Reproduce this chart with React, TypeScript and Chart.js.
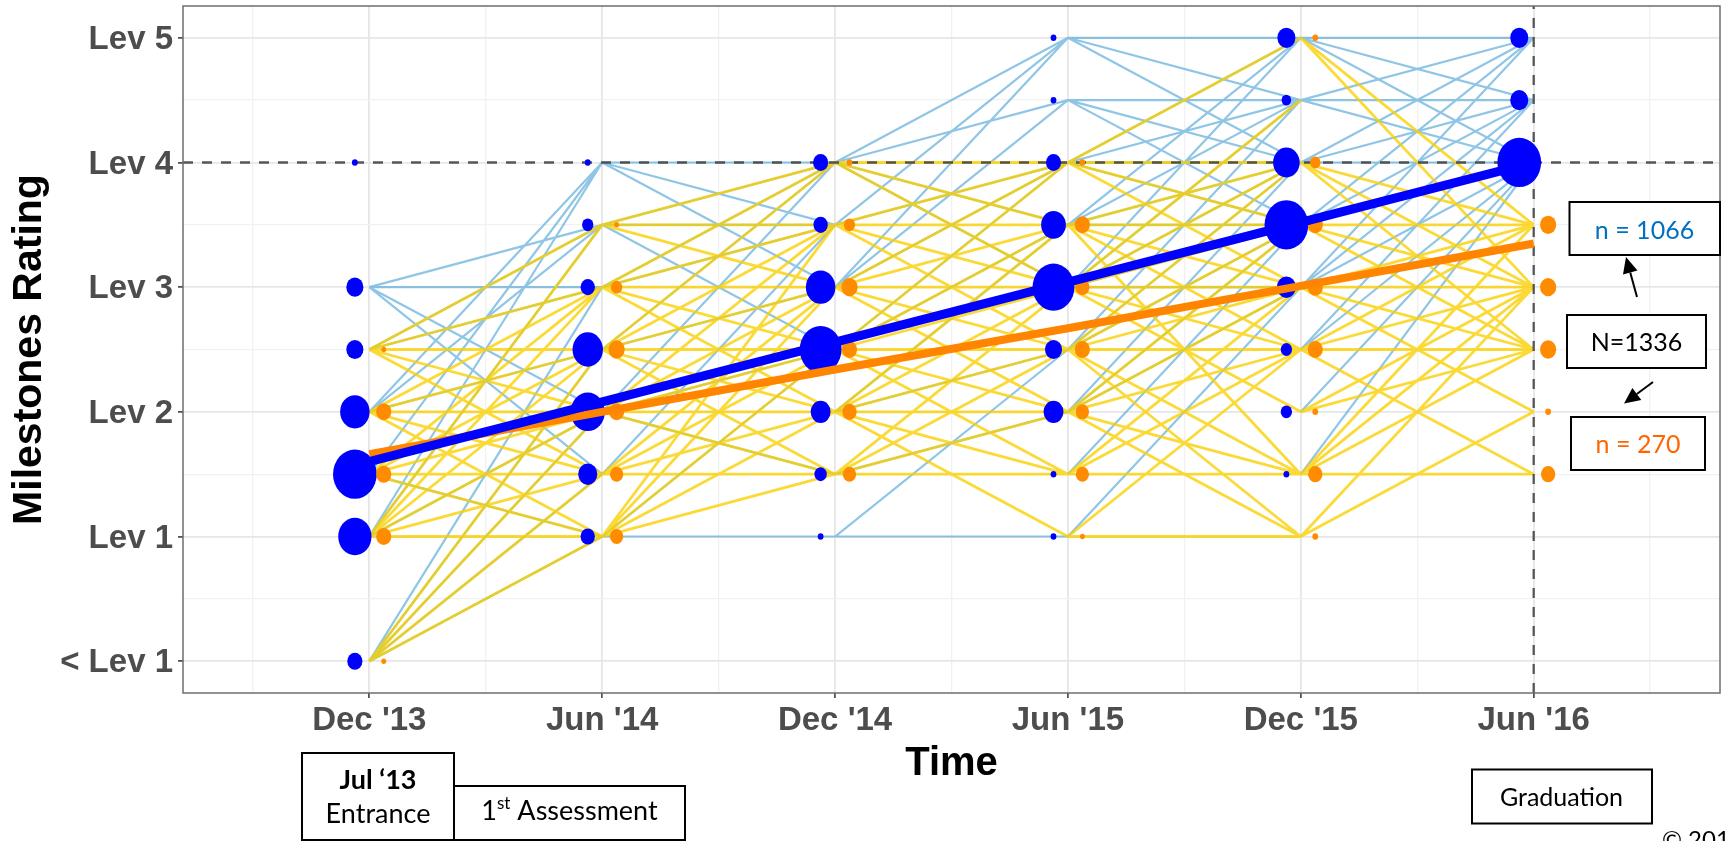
import React, { useEffect, useRef } from "react";
import { Chart, registerables } from "chart.js";

Chart.register(...registerables);

// ---------- data ----------
const timeLabels = ["Dec '13", "Jun '14", "Dec '14", "Jun '15", "Dec '15", "Jun '16"];
const levelLabels = ["< Lev 1", "Lev 1", "Lev 2", "Lev 3", "Lev 4", "Lev 5"];
// rating positions that the count arrays refer to
const ratingLevels = [0, 1, 1.5, 2, 2.5, 3, 3.5, 4, 4.5, 5];

// learners at each rating (columns follow ratingLevels), blue group n = 1066
const blueDec13 = [48, 232, 400, 182, 61, 61, 0, 7, 0, 0];
const blueJun14 = [0, 43, 76, 245, 194, 43, 27, 7, 0, 0];
const blueDec14 = [0, 7, 32, 83, 366, 182, 43, 48, 0, 0];
const blueJun15 = [0, 7, 7, 83, 61, 366, 128, 48, 7, 7];
const blueDec15 = [0, 0, 7, 27, 27, 76, 400, 148, 19, 68];
const blueJun16 = [0, 0, 0, 0, 0, 0, 0, 400, 68, 68];

// orange group n = 270
const orangeDec13 = [5, 48, 48, 48, 5, 0, 0, 0, 0, 0];
const orangeJun14 = [0, 37, 37, 48, 55, 27, 5, 0, 0, 0];
const orangeDec14 = [0, 0, 37, 43, 48, 55, 27, 7, 0, 0];
const orangeJun15 = [0, 5, 37, 37, 48, 43, 48, 7, 0, 0];
const orangeDec15 = [0, 7, 43, 7, 48, 48, 48, 23, 0, 7];
const orangeJun16 = [0, 0, 43, 7, 55, 55, 55, 0, 0, 0];

// fitted mean trajectories at each assessment
const blueTrend = [1.6, 2.08, 2.56, 3.04, 3.52, 4.0];
const orangeTrend = [1.66, 2.0, 2.34, 2.67, 3.01, 3.35];

// individual rating changes between consecutive assessments [from, to]
const blueMoves1: [number, number][] = [
  [3, 3.5], [3, 3], [3, 2], [3, 1.5], [2.5, 3], [2.5, 3.5], [2, 4], [2, 3.5], [2, 2.5],
  [1.5, 1], [1.5, 4], [1, 4], [1, 3.5], [1, 2], [0, 1], [0, 1.5], [0, 2], [0, 2.5], [0, 3],
];
const blueMoves2: [number, number][] = [
  [4, 4], [4, 3.5], [4, 3], [3.5, 3.5], [3.5, 2.5], [3.5, 4], [3, 4], [3, 3.5], [2.5, 4],
  [2.5, 3], [2, 4], [2, 2.5], [2, 1.5], [1.5, 3.5], [1, 1], [1, 2.5],
];
const blueMoves3: [number, number][] = [
  [4, 5], [4, 4.5], [4, 3.5], [4, 3], [3.5, 5], [3.5, 4], [3, 4.5], [3, 4], [3, 5],
  [2.5, 4], [2.5, 3.5], [2, 3.5], [2, 2.5], [1.5, 2], [1, 1], [1, 2.5],
];
const blueMoves4: [number, number][] = [
  [5, 5], [5, 4.5], [5, 4], [4.5, 4.5], [4.5, 4], [4.5, 3.5], [4, 5], [4, 4.5], [4, 4], [4, 3.5],
  [3.5, 5], [3.5, 4.5], [3.5, 4], [3.5, 3.5], [3, 5], [3, 4.5], [3, 4], [3, 3.5], [3, 3],
  [2.5, 4.5], [2.5, 4], [2.5, 3.5], [2, 4], [2, 3.5], [2, 3], [1.5, 3.5], [1, 3],
];
const blueMoves5: [number, number][] = [
  [5, 5], [5, 4.5], [5, 4], [4.5, 5], [4.5, 4.5], [4.5, 4], [4, 5], [4, 4.5], [4, 4],
  [3.5, 5], [3.5, 4.5], [3.5, 4], [3, 5], [3, 4.5], [3, 4], [2.5, 4.5], [2.5, 4], [2, 4], [1.5, 4],
];

const orangeMoves1: [number, number][] = [
  [2.5, 3.5], [2.5, 3], [2.5, 2.5], [2.5, 2], [2.5, 1.5], [2, 3], [2, 2.5], [2, 2], [2, 1.5], [2, 1],
  [1.5, 3], [1.5, 2.5], [1.5, 2], [1.5, 1.5], [1.5, 1], [1, 3.5], [1, 3], [1, 2.5], [1, 2], [1, 1.5],
  [1, 1], [0, 1], [0, 1.5], [0, 2], [0, 2.5],
];
const orangeMoves2: [number, number][] = [
  [3.5, 4], [3.5, 3.5], [3.5, 3], [3, 4], [3, 3.5], [3, 3], [3, 2.5], [3, 2], [2.5, 4], [2.5, 3.5],
  [2.5, 3], [2.5, 2.5], [2.5, 2], [2.5, 1.5], [2, 3.5], [2, 3], [2, 2.5], [2, 2], [2, 1.5],
  [1.5, 3], [1.5, 2.5], [1.5, 2], [1.5, 1.5], [1, 3.5], [1, 3], [1, 2.5], [1, 2], [1, 1.5],
];
const orangeMoves3: [number, number][] = [
  [4, 4], [4, 3.5], [4, 3], [3.5, 4], [3.5, 3.5], [3.5, 3], [3.5, 2.5], [3, 4], [3, 3.5], [3, 3],
  [3, 2.5], [3, 2], [2.5, 4], [2.5, 3.5], [2.5, 3], [2.5, 2.5], [2.5, 2], [2.5, 1.5], [2, 3.5],
  [2, 3], [2, 2.5], [2, 2], [2, 1.5], [2, 1], [1.5, 3], [1.5, 2.5], [1.5, 2], [1.5, 1.5],
];
const orangeMoves4: [number, number][] = [
  [4, 5], [4, 4], [4, 3.5], [4, 3], [3.5, 4], [3.5, 3.5], [3.5, 3], [3.5, 2.5], [3.5, 1.5],
  [3, 4.5], [3, 4], [3, 3.5], [3, 3], [3, 2.5], [3, 2], [2.5, 4], [2.5, 3.5], [2.5, 3], [2.5, 2.5],
  [2.5, 1.5], [2.5, 1], [2, 3.5], [2, 3], [2, 2.5], [2, 1.5], [2, 1], [1.5, 3], [1.5, 2.5],
  [1.5, 1.5], [1, 1], [1, 2.5],
];
const orangeMoves5: [number, number][] = [
  [5, 3.5], [5, 3], [4, 3.5], [4, 3], [4, 2.5], [3.5, 3.5], [3.5, 3], [3.5, 2.5], [3, 3.5], [3, 3],
  [3, 2.5], [3, 2], [2.5, 3.5], [2.5, 3], [2.5, 2.5], [2.5, 1.5], [2, 3], [2, 2.5], [1.5, 3.5],
  [1.5, 3], [1.5, 2.5], [1.5, 1.5], [1, 2], [1, 3],
];

const graduationTarget = 4; // Lev 4 reference line
const graduationTime = 5; // Jun '16 reference line
const totalLabel = "N=1336";
const blueLabel = "n = 1066";
const orangeLabel = "n = 270";

// ---------- helpers ----------
const blueCounts = [blueDec13, blueJun14, blueDec14, blueJun15, blueDec15, blueJun16];
const orangeCounts = [orangeDec13, orangeJun14, orangeDec14, orangeJun15, orangeDec15, orangeJun16];
const blueMoves = [blueMoves1, blueMoves2, blueMoves3, blueMoves4, blueMoves5];
const orangeMoves = [orangeMoves1, orangeMoves2, orangeMoves3, orangeMoves4, orangeMoves5];

const X_MIN = -0.8;
const X_MAX = 5.8;
const Y_MIN = -0.255;
const Y_MAX = 5.255;
const DODGE = 0.062;

const gridX: number[] = [];
for (let v = -0.5; v <= 5.5; v += 0.5) gridX.push(v);
const gridY: number[] = [];
for (let v = 0; v <= 5; v += 0.5) gridY.push(v);

const radiusFor = (count: number) => 1.15 * Math.sqrt(count);

function bubbles(counts: number[][], offset: number) {
  const out: { x: number; y: number; r: number }[] = [];
  counts.forEach((row, t) =>
    row.forEach((c, i) => {
      if (c > 0) out.push({ x: t + offset, y: ratingLevels[i], r: radiusFor(c) });
    })
  );
  return out;
}

function segments(moves: [number, number][][]) {
  const out: { x: number; y: number | null }[] = [];
  moves.forEach((list, t) =>
    list.forEach(([a, b]) => {
      out.push({ x: t, y: a }, { x: t + 1, y: b }, { x: t + 1, y: null });
    })
  );
  return out;
}

const SANS = "'Liberation Sans', Arial, Helvetica, sans-serif";
const isWhole = (v: number) => Math.abs(v - Math.round(v)) < 1e-6;

const zeroPadding = (axis: any) => {
  axis.paddingLeft = 0;
  axis.paddingRight = 0;
  axis.paddingTop = 0;
  axis.paddingBottom = 0;
  axis.getPadding = () => ({ left: 0, top: 0, right: 0, bottom: 0 });
};

// ---------- plugins ----------
const framePlugin = {
  id: "panelFrame",
  afterDatasetsDraw(chart: any) {
    const { ctx, chartArea: a } = chart;
    ctx.save();
    ctx.strokeStyle = "#6e6e6e";
    ctx.lineWidth = 1.5;
    ctx.strokeRect(a.left, a.top, a.right - a.left, a.bottom - a.top);
    ctx.restore();
  },
};

// bubbles are drawn slightly taller than wide, as in the original graphic
const ellipsePlugin = {
  id: "ellipseBubbles",
  afterDatasetDraw(chart: any, args: any) {
    const ds = chart.data.datasets[args.index];
    if (!ds || !ds.ellipseColor) return;
    const ctx: CanvasRenderingContext2D = chart.ctx;
    ctx.save();
    ctx.fillStyle = ds.ellipseColor;
    args.meta.data.forEach((el: any) => {
      const r = el.options.radius;
      ctx.beginPath();
      ctx.ellipse(el.x, el.y, r * 0.95, r * 1.07, 0, 0, Math.PI * 2);
      ctx.fill();
    });
    ctx.restore();
  },
};

type Box = { x: number; y: number; w: number; h: number };
const annotationBoxes: Box[] = [
  { x: 302, y: 753, w: 152, h: 87 },
  { x: 454, y: 786, w: 231, h: 54 },
  { x: 1472, y: 769.5, w: 180, h: 54 },
  { x: 1569.5, y: 202, w: 150.5, h: 53 },
  { x: 1567, y: 315, w: 139, h: 53 },
  { x: 1571, y: 417, w: 134, h: 53 },
];

function arrow(ctx: CanvasRenderingContext2D, x1: number, y1: number, x2: number, y2: number) {
  const ang = Math.atan2(y2 - y1, x2 - x1);
  const len = 16;
  const half = 7.5;
  const bx = x2 - len * Math.cos(ang);
  const by = y2 - len * Math.sin(ang);
  ctx.beginPath();
  ctx.moveTo(x1, y1);
  ctx.lineTo(bx, by);
  ctx.stroke();
  ctx.beginPath();
  ctx.moveTo(x2, y2);
  ctx.lineTo(bx + half * Math.sin(ang), by - half * Math.cos(ang));
  ctx.lineTo(bx - half * Math.sin(ang), by + half * Math.cos(ang));
  ctx.closePath();
  ctx.fill();
}

const annotationPlugin = {
  id: "annotations",
  afterDraw(chart: any) {
    const ctx: CanvasRenderingContext2D = chart.ctx;
    ctx.save();
    annotationBoxes.forEach((b) => {
      ctx.fillStyle = "#ffffff";
      ctx.fillRect(b.x, b.y, b.w, b.h);
      ctx.strokeStyle = "#000000";
      ctx.lineWidth = 2;
      ctx.strokeRect(b.x, b.y, b.w, b.h);
    });
    const text = (t: string, cx: number, base: number, font: string, color: string) => {
      ctx.font = font;
      ctx.fillStyle = color;
      ctx.textAlign = "center";
      ctx.textBaseline = "alphabetic";
      ctx.fillText(t, cx, base);
    };
    text("Jul \u201813", 378, 788.5, "bold 27px Lato", "#000");
    text("Entrance", 378, 822.5, "27px Lato", "#000");
    // 1st Assessment with superscript
    ctx.font = "27px Lato";
    const w1 = ctx.measureText("1").width;
    const wr = ctx.measureText(" Assessment").width;
    ctx.font = "17px Lato";
    const ws = ctx.measureText("st").width;
    const start = 569.5 - (w1 + ws + wr) / 2;
    ctx.textAlign = "left";
    ctx.textBaseline = "alphabetic";
    ctx.fillStyle = "#000";
    ctx.font = "27px Lato";
    ctx.fillText("1", start, 820);
    ctx.font = "17px Lato";
    ctx.fillText("st", start + w1, 809);
    ctx.font = "27px Lato";
    ctx.fillText(" Assessment", start + w1 + ws, 820);

    text("Graduation", 1561.5, 806, "25px Lato", "#000");
    text(blueLabel, 1644.5, 238.5, "25px Lato", "#0070C0");
    text(totalLabel, 1636.5, 351, "25px Lato", "#000");
    text(orangeLabel, 1638, 453, "25px Lato", "#FF6600");

    ctx.font = "24px Lato";
    ctx.textAlign = "left";
    ctx.fillStyle = "#000";
    ctx.fillText("\u00A9 2018", 1662, 848);

    ctx.strokeStyle = "#000";
    ctx.fillStyle = "#000";
    ctx.lineWidth = 2;
    arrow(ctx, 1637, 297, 1626, 257);
    arrow(ctx, 1653, 382, 1624, 403.5);
    ctx.restore();
  },
};

// ---------- component ----------
export default function App() {
  const ref = useRef<HTMLCanvasElement>(null);

  useEffect(() => {
    const canvas = ref.current;
    if (!canvas) return;

    const lineBase = { type: "line" as const, pointRadius: 0, pointHoverRadius: 0, tension: 0, fill: false };
    const gridColor = (c: any) => (isWhole(c.tick?.value ?? 0.5) ? "#e6e6e6" : "#f1f1f1");
    const gridWidth = (c: any) => (isWhole(c.tick?.value ?? 0.5) ? 1.8 : 1.3);
    const tickColor = (c: any) => (isWhole(c.tick?.value ?? 0.5) ? "#333333" : "rgba(0,0,0,0)");

    const chart = new Chart(canvas, {
      type: "scatter",
      data: {
        datasets: [
          {
            ...lineBase,
            label: "blue trajectories",
            data: segments(blueMoves),
            borderColor: "rgba(95,172,218,0.7)",
            borderWidth: 2.2,
            order: 7,
          },
          {
            ...lineBase,
            label: "orange trajectories",
            data: segments(orangeMoves),
            borderColor: "rgba(250,207,0,0.78)",
            borderWidth: 2.8,
            order: 6,
          },
          {
            ...lineBase,
            label: "Lev 4",
            data: [
              { x: X_MIN, y: graduationTarget },
              { x: X_MAX, y: graduationTarget },
            ],
            borderColor: "rgba(70,70,70,0.9)",
            borderWidth: 2.3,
            borderDash: [10, 9],
            order: 5,
          },
          {
            ...lineBase,
            label: "Graduation",
            data: [
              { x: graduationTime, y: Y_MIN },
              { x: graduationTime, y: Y_MAX },
            ],
            borderColor: "rgba(70,70,70,0.9)",
            borderWidth: 2.3,
            borderDash: [10, 9],
            order: 5,
          },
          {
            type: "bubble" as const,
            label: "blue",
            data: bubbles(blueCounts, -DODGE),
            backgroundColor: "rgba(0,0,0,0)",
            ellipseColor: "#0000FF",
            borderWidth: 0,
            hoverRadius: 0,
            order: 4,
          },
          {
            type: "bubble" as const,
            label: "orange",
            data: bubbles(orangeCounts, DODGE),
            backgroundColor: "rgba(0,0,0,0)",
            ellipseColor: "#FF8C00",
            borderWidth: 0,
            hoverRadius: 0,
            order: 3,
          },
          {
            ...lineBase,
            label: "orange trend",
            data: orangeTrend.map((y, t) => ({ x: t, y })),
            borderColor: "#FF8400",
            borderWidth: 8,
            borderCapStyle: "butt",
            order: 2,
          },
          {
            ...lineBase,
            label: "blue trend",
            data: blueTrend.map((y, t) => ({ x: t, y })),
            borderColor: "#0000FF",
            borderWidth: 9,
            borderCapStyle: "butt",
            order: 1,
          },
        ] as any,
      },
      options: {
        responsive: false,
        animation: false,
        devicePixelRatio: 1,
        events: [],
        layout: { autoPadding: false, padding: { top: 6, right: 7, bottom: 0, left: 0 } },
        plugins: { legend: { display: false }, tooltip: { enabled: false } },
        scales: {
          x: {
            type: "linear",
            min: X_MIN,
            max: X_MAX,
            afterBuildTicks: (axis: any) => {
              axis.ticks = gridX.map((value) => ({ value }));
            },
            afterFit: (axis: any) => {
              axis.height = 148;
              zeroPadding(axis);
            },
            ticks: {
              autoSkip: false,
              maxRotation: 0,
              minRotation: 0,
              padding: 3,
              color: "#4d4d4d",
              font: { family: SANS, size: 33, weight: "bold" },
              callback: (v: any) => (isWhole(Number(v)) ? timeLabels[Math.round(Number(v))] ?? "" : ""),
            },
            grid: { color: gridColor, lineWidth: gridWidth, tickLength: 5, tickWidth: 1.5, tickColor },
            border: { display: false },
            title: {
              display: true,
              text: "Time",
              color: "#000",
              font: { family: SANS, size: 40, weight: "bold" },
              padding: { top: 0, bottom: 53 },
            },
          },
          y: {
            type: "linear",
            min: Y_MIN,
            max: Y_MAX,
            afterBuildTicks: (axis: any) => {
              axis.ticks = gridY.map((value) => ({ value }));
            },
            afterFit: (axis: any) => {
              axis.width = 183;
              zeroPadding(axis);
            },
            ticks: {
              autoSkip: false,
              padding: 5,
              labelOffset: 2,
              color: "#4d4d4d",
              font: { family: SANS, size: 33, weight: "bold" },
              callback: (v: any) => (isWhole(Number(v)) ? levelLabels[Math.round(Number(v))] ?? "" : ""),
            },
            grid: { color: gridColor, lineWidth: gridWidth, tickLength: 5, tickWidth: 1.5, tickColor },
            border: { display: false },
            title: {
              display: true,
              text: "Milestones Rating",
              color: "#000",
              font: { family: SANS, size: 41, weight: "bold" },
              padding: { top: 5, bottom: 0 },
            },
          },
        },
      } as any,
      plugins: [ellipsePlugin, framePlugin, annotationPlugin],
    });

    return () => chart.destroy();
  }, []);

  return (
    <div
      style={{
        position: "fixed",
        left: 0,
        top: 0,
        width: 1727,
        height: 841,
        overflow: "hidden",
        background: "#ffffff",
      }}
    >
      <canvas ref={ref} width={1727} height={841} style={{ display: "block", width: 1727, height: 841 }} />
    </div>
  );
}
